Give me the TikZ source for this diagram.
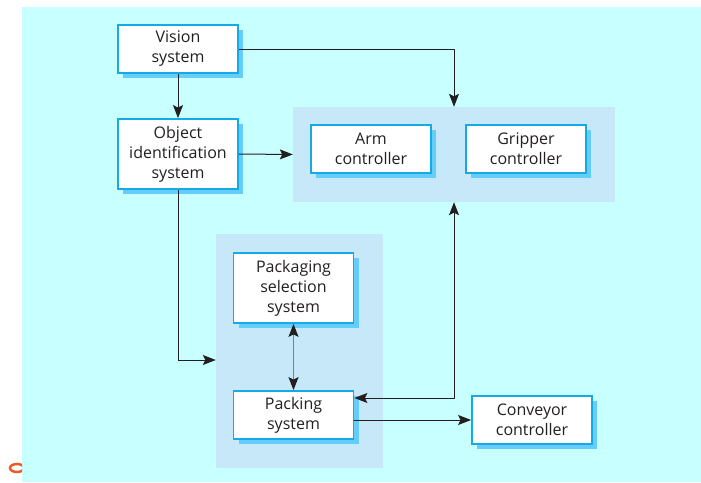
\documentclass[tikz,border=0pt]{standalone}
\usepackage{fontspec}
\setmainfont{Open Sans}
\usetikzlibrary{shadows,arrows.meta}
\definecolor{bgcyan}{RGB}{200,255,255}
\definecolor{grp}{RGB}{198,232,248}
\definecolor{bord}{RGB}{20,170,230}
\definecolor{shad}{RGB}{100,205,250}
\definecolor{ink}{RGB}{35,31,32}
\definecolor{artif}{RGB}{235,90,40}
\begin{document}
\begin{tikzpicture}[x=1pt,y=-1pt,
  box/.style={draw=bord, line width=1.8pt, fill=white, align=center, text=ink,
    font=\fontsize{16}{20}\selectfont, inner sep=0pt, minimum width=120pt,
    copy shadow={shadow xshift=5pt, shadow yshift=-5pt, fill=shad, draw=none}},
  grpbox/.style={draw=none, fill=grp, inner sep=0pt},
  arr/.style={draw=ink, line width=1pt, -{Stealth[length=13pt,width=10pt,inset=2.5pt,color=ink]}},
  darr/.style={draw=ink, line width=1pt, {Stealth[length=13pt,width=10pt,inset=2.5pt,color=ink]}-{Stealth[length=13pt,width=10pt,inset=2.5pt,color=ink]}}
]
\useasboundingbox (0,0) rectangle (701,482);
\fill[bgcyan] (22,7) rectangle (701,482);
\begin{scope}
\clip (0,455) rectangle (22,482);
\draw[artif, line width=2.5pt] (17,468) ellipse (7 and 4);
\end{scope}

\node[grpbox, minimum width=322pt, minimum height=95pt] (gA) at (454,154.5) {};
\node[grpbox, minimum width=167pt, minimum height=234pt] (gP) at (299.5,351) {};

\node[box, minimum height=48pt] (vision) at (178,49) {Vision\\system};
\node[box, minimum height=70pt] (object) at (178,154) {Object\\identification\\system};
\node[box, minimum height=48pt] (arm) at (371,149) {Arm\\controller};
\node[box, minimum height=48pt] (grip) at (526,149) {Gripper\\controller};
\node[box, minimum height=70pt] (psel) at (293.5,288) {Packaging\\selection\\system};
\node[box, minimum height=48pt] (pack) at (293.5,415) {Packing\\system};
\node[box, minimum height=48pt] (conv) at (532,420) {Conveyor\\controller};

\draw[arr] (vision.east) -| (gA.north);
\draw[arr] (vision.south) -- (object.north);
\draw[arr] (object.east) -- (gA.west);
\draw[arr] (object.south) |- (gP.west |- 0,360);
\draw[darr, draw=gray, line width=1.3pt] (psel.south) -- (pack.north);
\draw[darr] (gA.south) |- (pack.east |- 0,398);
\draw[arr] (pack.east |- 0,420) -- (conv.west);
\end{tikzpicture}
\end{document}
